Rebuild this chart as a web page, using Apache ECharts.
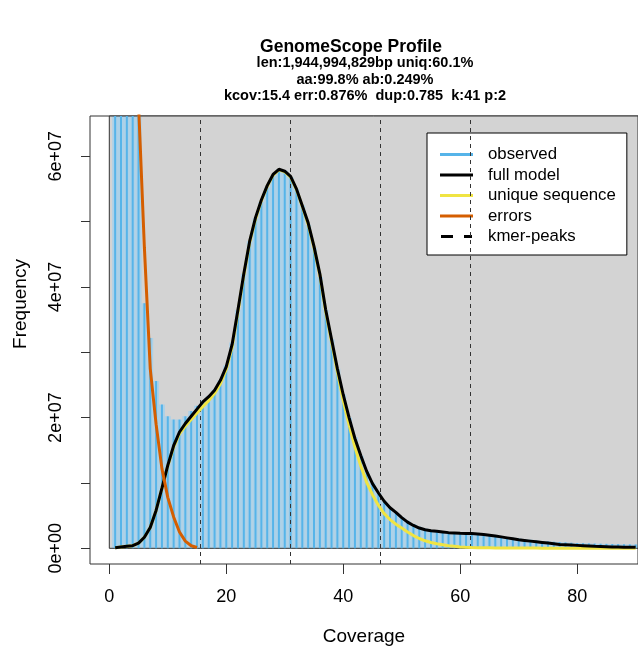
<!DOCTYPE html>
<html>
<head>
<meta charset="utf-8">
<script src="https://cdn.jsdelivr.net/npm/echarts@6/dist/echarts.min.js"></script>
<style>
html, body { margin: 0; padding: 0; background: #fff; }
#chart { width: 638px; height: 651px; }
</style>
</head>
<body>
<div id="chart"></div>
<script>
// values, frequencies in millions
var observed = [400, 200, 130, 95, 72, 37.5, 32.2, 25.6, 22.0, 20.2,
    19.7, 19.7, 20.2, 21.0, 21.8, 22.6, 23.3, 24.3, 25.7, 28.0,
    31.5, 36.5, 42.0, 47.0, 50.5, 53.0, 55.2, 57.0, 58.0, 57.8,
    56.8, 55.0, 52.5, 49.5, 46.0, 41.5, 36.5, 32.0, 27.5, 23.5,
    20.0, 17.0, 14.2, 11.8, 10.0, 8.5, 7.2, 6.2, 5.4, 4.8,
    4.2, 3.7, 3.3, 3.0, 2.8, 2.7, 2.6, 2.5, 2.45, 2.4,
    2.35, 2.3, 2.2, 2.1, 2.0, 1.9, 1.8, 1.7, 1.6, 1.5,
    1.4, 1.3, 1.2, 1.1, 1.05, 1.0, 0.95, 0.9, 0.85, 0.8,
    0.78, 0.75, 0.72, 0.7, 0.68, 0.66, 0.64, 0.62, 0.6, 0.58];
var fullModel = [0.1, 0.2, 0.3, 0.4, 0.8, 1.7, 3.2, 5.8, 9.2, 12.7,
    15.7, 17.8, 19.1, 20.2, 21.3, 22.4, 23.2, 24.2, 25.7, 27.8,
    31.2, 36.5, 42.0, 47.0, 50.6, 53.3, 55.5, 57.2, 58.0, 57.7,
    56.9, 55.0, 52.4, 49.8, 46.2, 42.0, 36.5, 32.0, 27.5, 23.5,
    20.0, 16.8, 14.2, 11.8, 9.9, 8.5, 7.2, 6.2, 5.5, 4.7,
    4.0, 3.5, 3.1, 2.85, 2.7, 2.6, 2.5, 2.4, 2.35, 2.3,
    2.28, 2.25, 2.2, 2.1, 2.0, 1.9, 1.75, 1.6, 1.45, 1.3,
    1.2, 1.1, 1.0, 0.9, 0.8, 0.7, 0.6, 0.55, 0.5, 0.45,
    0.4, 0.35, 0.3, 0.28, 0.25, 0.22, 0.2, 0.18, 0.16, 0.15];
var uniqueSeq = [0.1, 0.2, 0.3, 0.4, 0.8, 1.7, 3.2, 5.8, 9.2, 12.6,
    15.5, 17.5, 18.7, 19.7, 20.7, 21.7, 22.6, 23.7, 25.2, 27.4,
    30.8, 36.2, 41.8, 46.8, 50.4, 53.2, 55.4, 57.1, 57.9, 57.6,
    56.8, 54.9, 52.3, 49.6, 46.0, 41.8, 36.2, 31.6, 27.0, 22.6,
    18.9, 15.5, 12.6, 10.1, 8.2, 6.6, 5.3, 4.4, 3.7, 3.1,
    2.5, 1.95, 1.5, 1.15, 0.9, 0.7, 0.55, 0.4, 0.3, 0.2,
    0.15, 0.12, 0.1, 0.08, 0.07, 0.06, 0.05, 0.05, 0.04, 0.04,
    0.03, 0.03, 0.03, 0.02, 0.02, 0.02, 0.02, 0.02, 0.01, 0.01,
    0.01, 0.01, 0.01, 0.01, 0.01, 0.01, 0.01, 0.01, 0.01, 0.01];
var errors = [2000, 600, 250, 120, 68, 46, 27.5, 19, 12.2, 7.8,
    4.8, 2.5, 1.1, 0.4, 0.12];
var kmerPeaks = [15.5, 31.0, 46.3, 61.7];
var xTicks = [0, 20, 40, 60, 80];
var yTicks = [0, 1e7, 2e7, 3e7, 4e7, 5e7, 6e7];
var yLabels = [0, 2e7, 4e7, 6e7];

var xMin = -3.3, xMax = 90.4;
var yMin = -2.4e6, yMax = 6.615e7;

function pairs(arr) {
    var out = [];
    for (var i = 0; i < arr.length; i++) {
        out.push([i + 1, arr[i] * 1e6]);
    }
    return out;
}

var font = 'Liberation Sans, Arial, sans-serif';
var chart = echarts.init(document.getElementById('chart'));

var option = {
    animation: false,
    title: [{
        text: 'GenomeScope Profile',
        left: 351, top: 38, textAlign: 'center', padding: 0,
        textStyle: { fontSize: 17.5, fontWeight: 'bold', fontFamily: font, color: '#000' }
    }, {
        text: 'len:1,944,994,829bp uniq:60.1%\naa:99.8% ab:0.249%\nkcov:15.4 err:0.876%  dup:0.785  k:41 p:2',
        left: 365, top: 55, textAlign: 'center', padding: 0,
        textStyle: { fontSize: 14.5, fontWeight: 'bold', lineHeight: 16.5, fontFamily: font, color: '#000' }
    }],
    legend: {
        orient: 'vertical',
        left: 427, top: 133,
        padding: [13, 11, 10, 13],
        backgroundColor: '#fff',
        borderColor: '#000',
        borderWidth: 1,
        itemWidth: 33,
        itemHeight: 3,
        itemGap: 3.5,
        selectedMode: false,
        textStyle: { fontSize: 16.8, lineHeight: 17, color: '#000', fontFamily: font, padding: [0, 0, 0, 10] },
        data: [
            { name: 'observed', icon: 'rect' },
            { name: 'full model', icon: 'rect' },
            { name: 'unique sequence', icon: 'rect' },
            { name: 'errors', icon: 'rect' },
            { name: 'kmer-peaks', icon: 'path://M0,0H12V3H0Z M23,0H31V3H23Z' }
        ]
    },
    grid: {
        left: 90, right: -2, top: 116, bottom: 86,
        show: true, borderColor: '#333', borderWidth: 1, backgroundColor: '#fff'
    },
    xAxis: [{
        type: 'value', min: xMin, max: xMax,
        name: 'Coverage', nameLocation: 'middle', nameGap: 63,
        nameTextStyle: { fontSize: 19, fontFamily: font, color: '#000' },
        axisLine: { show: false, onZero: false },
        axisTick: { show: true, customValues: xTicks, length: 10, lineStyle: { color: '#333' } },
        axisLabel: { customValues: xTicks, margin: 24, fontSize: 18, fontFamily: font, color: '#000' },
        splitLine: { show: false }
    }, {
        type: 'value', min: xMin, max: xMax, show: false
    }],
    yAxis: {
        type: 'value', min: yMin, max: yMax,
        name: 'Frequency', nameLocation: 'middle', nameGap: 60,
        nameTextStyle: { fontSize: 19, fontFamily: font, color: '#000', padding: [0, 0, 0, 72] },
        axisLine: { show: false, onZero: false },
        axisTick: { show: true, customValues: yTicks, length: 9, lineStyle: { color: '#333' } },
        axisLabel: {
            customValues: yLabels, rotate: 90, margin: 25, fontSize: 18, fontFamily: font, color: '#000',
            formatter: function (v) { return v === 0 ? '0e+00' : (v / 1e7) + 'e+07'; }
        },
        splitLine: { show: false }
    },
    series: [{
        // grey background rectangle
        name: 'bg', type: 'line', data: [], silent: true,
        markArea: {
            silent: true, z: 1,
            itemStyle: { color: '#d3d3d3', borderWidth: 0 },
            data: [[{ coord: [0, 0] }, { coord: [xMax, yMax] }]]
        }
    }, {
        name: 'observed fill', type: 'bar', xAxisIndex: 1,
        data: pairs(observed), barWidth: 5.9, z: 2, silent: true,
        itemStyle: { color: '#acd1e8' }
    }, {
        // rectangle outline, drawn above the fill bars
        name: 'bg border', type: 'line', data: [], silent: true,
        markArea: {
            silent: true, z: 3,
            itemStyle: { color: 'rgba(0,0,0,0)', borderColor: '#333', borderWidth: 1 },
            data: [[{ coord: [0, 0] }, { coord: [xMax, yMax] }]]
        }
    }, {
        name: 'observed', type: 'bar', xAxisIndex: 0,
        data: pairs(observed), barWidth: 2, z: 4, silent: true,
        itemStyle: { color: '#56B4E9' }
    }, {
        name: 'kmer-peaks', type: 'line', data: [], z: 5,
        itemStyle: { color: '#000' },
        lineStyle: { color: '#000' },
        markLine: {
            silent: true, symbol: 'none', z: 5,
            label: { show: false },
            lineStyle: { color: '#333', width: 1, type: [4, 4] },
            data: kmerPeaks.map(function (p) { return { xAxis: p }; })
        }
    }, {
        name: 'unique sequence', type: 'line', data: pairs(uniqueSeq), z: 6,
        showSymbol: false, symbol: 'none',
        itemStyle: { color: '#F0E442' },
        lineStyle: { color: '#F0E442', width: 3 }
    }, {
        name: 'full model', type: 'line', data: pairs(fullModel), z: 7,
        showSymbol: false, symbol: 'none',
        itemStyle: { color: '#000' },
        lineStyle: { color: '#000', width: 3 }
    }, {
        name: 'errors', type: 'line', data: pairs(errors), z: 8,
        showSymbol: false, symbol: 'none',
        itemStyle: { color: '#D55E00' },
        lineStyle: { color: '#D55E00', width: 3 }
    }]
};

chart.setOption(option);
</script>
</body>
</html>
